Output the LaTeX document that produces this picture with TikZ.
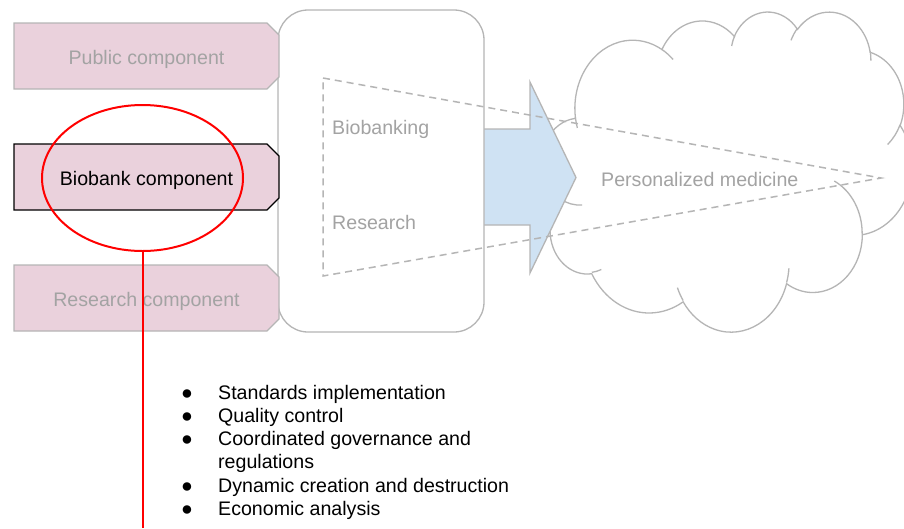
\documentclass[tikz,border=0pt]{standalone}
\usepackage{fontspec}
\setmainfont{Liberation Sans}
\usetikzlibrary{shapes.geometric,shapes.misc}

\definecolor{linegray}{HTML}{B5B5B5}
\definecolor{labelgray}{HTML}{A3A3A3}
\definecolor{compfill}{HTML}{EAD1DC}
\definecolor{flowfill}{HTML}{CFE2F3}

\newcommand{\slidefont}{\fontsize{19.6pt}{23.3pt}\selectfont}
\newcommand{\cloudlobe}[4]{arc[x radius=#1,y radius=#2,start angle={atan2(#1*sin(#3),#2*cos(#3))},delta angle={mod(atan2(#1*sin(#3+#4),#2*cos(#3+#4))-atan2(#1*sin(#3),#2*cos(#3))+720,360)}]}

\begin{document}
\begin{tikzpicture}[x=1pt,y=-1pt,
	component/.style={chamfered rectangle,chamfered rectangle corners={north east,south east},chamfered rectangle xsep=11pt,minimum width=265pt,minimum height=66pt,inner sep=0pt,text height=16.5pt,text depth=0.5pt,fill=compfill,draw=linegray,line width=1.3pt,text=labelgray,font=\slidefont},
	stage/.style={rectangle,rounded corners=30pt,minimum width=206pt,minimum height=322pt,fill=white,draw=linegray,line width=1.3pt},
	stagetext/.style={anchor=base west,inner sep=0pt,text=labelgray,font=\slidefont},
	cloudline/.style={draw=linegray,line width=1.3pt},
	flow/.style={fill=flowfill,draw=linegray,line width=1.3pt},
	fan/.style={draw=linegray,line width=1.5pt,dash pattern=on 7pt off 5pt},
	focus/.style={ellipse,draw=red,line width=2pt,minimum width=201pt,minimum height=146pt,inner sep=0pt},
	tasklist/.style={anchor=base west,inner sep=0pt,font=\slidefont}]
	\path[use as bounding box,clip] (0,0) rectangle (904,528);

	\begin{scope}[shift={(542,11)},x=0.85648pt,y=-0.74074pt]
		\filldraw[cloudline,fill=white] (39.00,143.70) \cloudlobe{67.53}{91.90}{-190.4875}{123.7805}
			\cloudlobe{53.33}{72.67}{-144.1024}{89.9452}
			\cloudlobe{43.65}{59.45}{-145.8079}{99.7230}
			\cloudlobe{48.57}{65.95}{-130.9861}{117.2417}
			\cloudlobe{53.33}{72.73}{-78.7089}{109.0269}
			\cloudlobe{67.75}{92.20}{-46.2673}{130.2690}
			\cloudlobe{57.85}{78.67}{0.6250}{114.0333}
			\cloudlobe{67.52}{92.15}{22.4516}{115.1726}
			\cloudlobe{77.20}{105.43}{66.2426}{75.7110}
			\cloudlobe{43.60}{59.18}{-274.9421}{146.7356}
			\cloudlobe{43.45}{59.45}{-246.8285}{152.5189} -- cycle;
		\foreach \px/\py/\rx/\ry/\st/\sw in {46.93/261.77/43.45/59.45/86.742/26.4295,
			69.28/348.99/43.60/59.18/73.6105/11.4475,
			164.78/390.90/67.52/92.15/137.6242/14.0811,
			288.27/347.51/67.52/92.15/6.4533/15.9984,
			341.29/229.54/57.85/78.67/-70.2924/70.9174,
			417.98/153.54/53.33/72.73/30.3180/27.7515,
			383.24/54.26/48.57/65.95/-13.7443/14.8589,
			290.78/39.52/48.57/65.95/-149.1815/18.1954,
			221.41/47.20/43.65/59.45/-163.4943/17.6864,
			140.00/51.92/67.53/91.90/-66.7070/12.3194,
			41.27/157.89/67.53/91.90/157.6544/11.8582}{
			\draw[cloudline] (\px,\py) \cloudlobe{\rx}{\ry}{\st}{\sw};
		}
	\end{scope}

	\draw[flow] (470,129) -- (530,129) -- (530,82) -- (576,177.5) -- (530,273) -- (530,225) -- (470,225) -- cycle;

	\node[stage] (stage) at (381,171) {};

	\node[component] (pubcomp) at (146.5,56) {Public component};
	\node[component,draw=black,text=black] (biocomp) at (146.5,177) {Biobank component};
	\node[component] (rescomp) at (146.5,298) {Research component};

	\node[stagetext] (biobanking) at (332,134) {Biobanking};
	\node[stagetext] (research) at (332,229) {Research};
	\node[stagetext] (medicine) at (601,186) {Personalized medicine};

	\coordinate (fantop) at (323,78);
	\coordinate (fanbottom) at (323,276);
	\coordinate (fantip) at (881,178);
	\draw[fan] (fantop) -- (fantip) -- (fanbottom) -- cycle;

	\node[focus] (focus) at (142.5,178) {};
	\coordinate (focusend) at (142.5,528);
	\draw[red,line width=2pt] (focus.south) -- (focusend);

	\node[tasklist] (tasks) at (181,399) {\begin{tabular}[t]{@{}l@{}l@{}}
		\makebox[37pt][l]{●} & Standards implementation\\
		\makebox[37pt][l]{●} & Quality control\\
		\makebox[37pt][l]{●} & Coordinated governance and\\
		& regulations\\
		\makebox[37pt][l]{●} & Dynamic creation and destruction\\
		\makebox[37pt][l]{●} & Economic analysis
	\end{tabular}};
\end{tikzpicture}
\end{document}
